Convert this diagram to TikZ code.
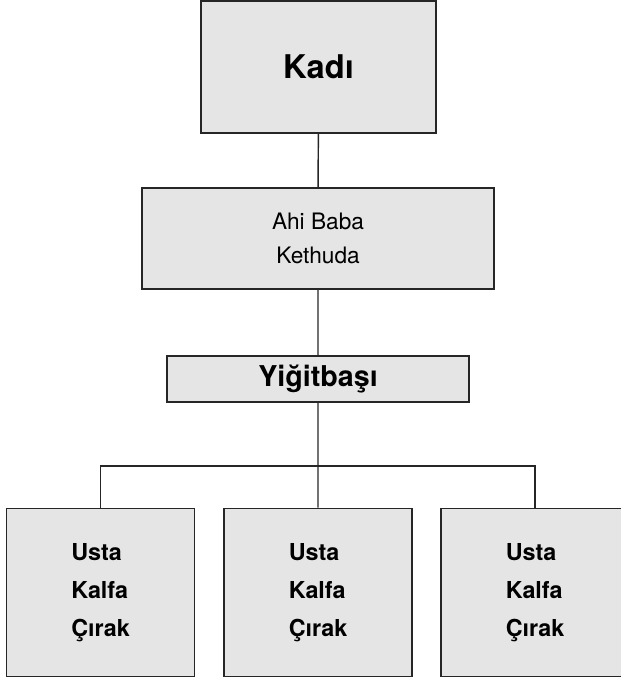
\documentclass[tikz,border=0pt]{standalone}
\usepackage{fontspec}
\setmainfont{TeX Gyre Heros}
\usetikzlibrary{positioning}

\begin{document}
\begin{tikzpicture}[x=0.75pt, y=-0.75pt,
    kutu/.style={draw=black!85, line width=1.4pt, fill=gray!20!white, inner sep=0pt},
    hat/.style={draw=black!85, line width=1.1pt}]

    \useasboundingbox (0,0) rectangle (621,682);
    \clip (0,0) rectangle (621,682);

    \begin{scope}[]

    \node[kutu, minimum width=176.25pt, minimum height=99pt, font=\bfseries\fontsize{24.5}{28}\selectfont] (kadi) at (318.5,67) {Kadı};

    \node[kutu, minimum width=264pt, minimum height=75.75pt, align=center, font=\fontsize{17}{26}\selectfont] (ahi) at (318,238.5) {Ahi Baba\\Kethuda};

    \node[kutu, minimum width=226.5pt, minimum height=34.5pt, font=\bfseries\fontsize{21.5}{24}\selectfont] (yigit) at (318,379) {Yiğitbaşı};

    \end{scope}

    \begin{scope}[every node/.style={kutu, minimum width=141pt, minimum height=126pt, align=left, font=\bfseries\fontsize{17.5}{28.5}\selectfont}]

    \node (ustaA) at (100.5,592.5) {Usta\\Kalfa\\Çırak};
    \node (ustaB) at (318,592.5) {Usta\\Kalfa\\Çırak};
    \node (ustaC) at (535,592.5) {Usta\\Kalfa\\Çırak};

    \end{scope}

    \coordinate (catal) at (318,466);

    \draw[hat] (kadi) -- (ahi) (ahi) -- (yigit) (yigit) -- (ustaB);
    \draw[hat] (ustaA.north) |- (catal) -| (ustaC.north);

\end{tikzpicture}
\end{document}
